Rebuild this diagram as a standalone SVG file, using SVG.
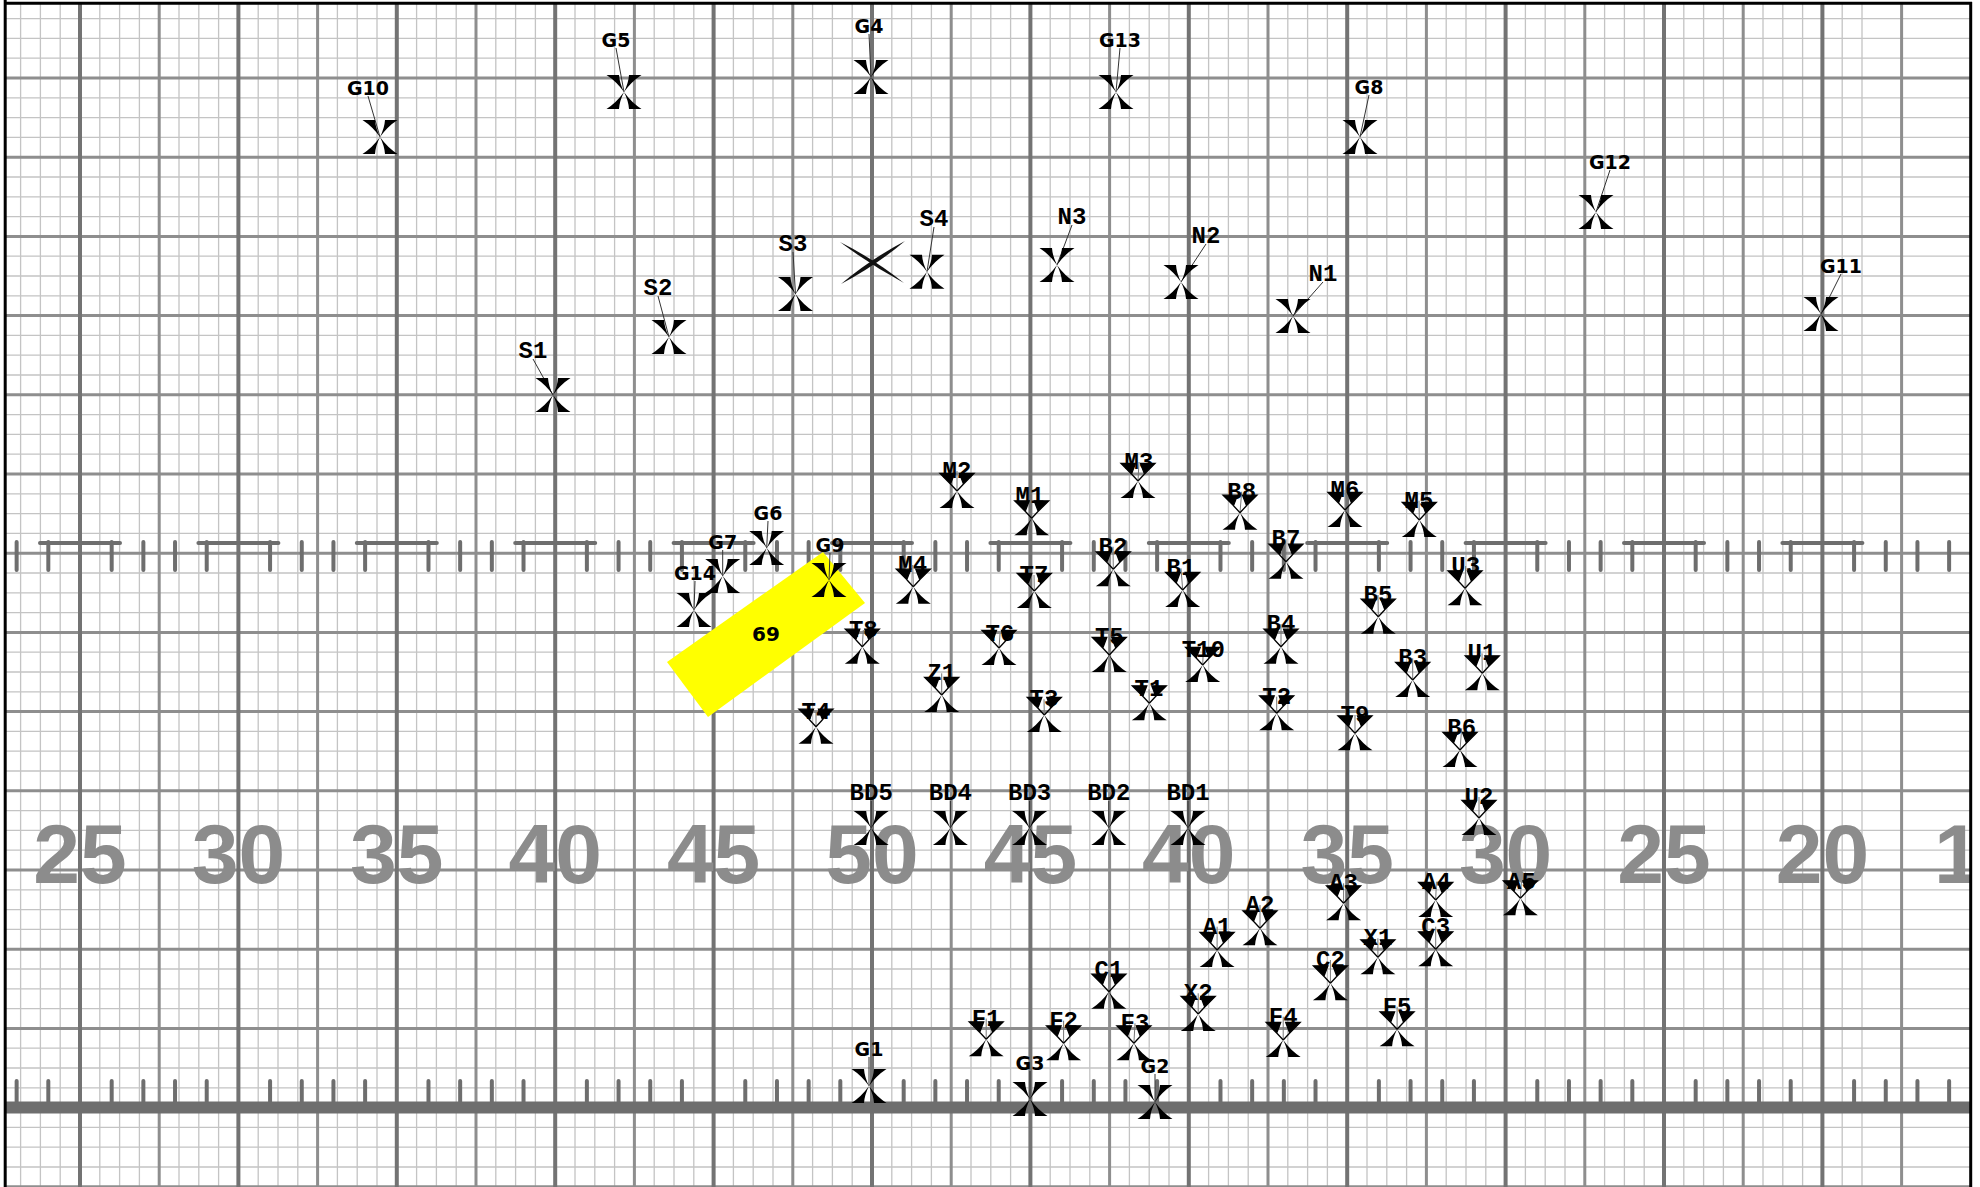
<svg xmlns="http://www.w3.org/2000/svg" xmlns:xlink="http://www.w3.org/1999/xlink" width="1980" height="1187" viewBox="0 0 1980 1187">
<defs>
<style>
.mn{fill:none;stroke:#c4c4c4;stroke-width:1.3}
.mj{fill:none;stroke:#8e8e8e;stroke-width:3}
.dk{fill:none;stroke:#737373;stroke-width:4}
.tk{fill:none;stroke:#6e6e6e;stroke-width:4;stroke-linecap:round}
.num{font-family:"Liberation Sans",Arial,sans-serif;font-weight:bold;font-size:84px;fill:#8c8c8c;text-anchor:middle}
.la{font-family:"DejaVu Sans",sans-serif;font-weight:bold;font-size:19px;fill:#000;text-anchor:middle}
.lb{font-family:"Liberation Mono","Courier New",monospace;font-weight:bold;font-size:24px;fill:#000;text-anchor:middle}
.ld line{stroke:#333;stroke-width:1}
.lg line{stroke:#777;stroke-width:1}
</style>
<path id="w" d="M0 0Q-7.5 -10.5 -17.5 -17L-5 -17Q-4.5 -9 0 0Z" fill="#000"/>
<path id="bb" d="M-17 -17.5H-2.5L-6.5 -7ZM-6.5 -7L0 0" fill="#000" stroke="#000" stroke-width="1.3"/>
<g id="xa"><use href="#w"/><use href="#w" transform="scale(-1,1)"/><use href="#w" transform="scale(1,-1)"/><use href="#w" transform="scale(-1,-1)"/></g>
<g id="xb"><use href="#w" transform="scale(1,-1)"/><use href="#w" transform="scale(-1,-1)"/><use href="#bb"/><use href="#bb" transform="scale(-1,1)"/></g>
<clipPath id="fc"><rect x="5" y="3" width="1966" height="1184"/></clipPath>
</defs>
<rect width="1980" height="1187" fill="#fff"/>
<g id="field" clip-path="url(#fc)">
<path class="mn" d="M20.6 3v1184m19.8 -1184v1184m19.8 -1184v1184m19.8 -1184v1184m19.8 -1184v1184m19.8 -1184v1184m19.8 -1184v1184m19.8 -1184v1184m19.8 -1184v1184m19.8 -1184v1184m19.8 -1184v1184m19.8 -1184v1184m19.8 -1184v1184m19.8 -1184v1184m19.8 -1184v1184m19.8 -1184v1184m19.8 -1184v1184m19.8 -1184v1184m19.8 -1184v1184m19.8 -1184v1184m19.8 -1184v1184m19.8 -1184v1184m19.8 -1184v1184m19.8 -1184v1184m19.8 -1184v1184m19.8 -1184v1184m19.8 -1184v1184m19.8 -1184v1184m19.8 -1184v1184m19.8 -1184v1184m19.8 -1184v1184m19.8 -1184v1184m19.8 -1184v1184m19.8 -1184v1184m19.8 -1184v1184m19.8 -1184v1184m19.8 -1184v1184m19.8 -1184v1184m19.8 -1184v1184m19.8 -1184v1184m19.8 -1184v1184m19.8 -1184v1184m19.8 -1184v1184m19.8 -1184v1184m19.8 -1184v1184m19.8 -1184v1184m19.8 -1184v1184m19.8 -1184v1184m19.8 -1184v1184m19.8 -1184v1184m19.8 -1184v1184m19.8 -1184v1184m19.8 -1184v1184m19.8 -1184v1184m19.8 -1184v1184m19.8 -1184v1184m19.8 -1184v1184m19.8 -1184v1184m19.8 -1184v1184m19.8 -1184v1184m19.8 -1184v1184m19.8 -1184v1184m19.8 -1184v1184m19.8 -1184v1184m19.8 -1184v1184m19.8 -1184v1184m19.8 -1184v1184m19.8 -1184v1184m19.8 -1184v1184m19.8 -1184v1184m19.8 -1184v1184m19.8 -1184v1184m19.8 -1184v1184m19.8 -1184v1184m19.8 -1184v1184m19.8 -1184v1184m19.8 -1184v1184m19.8 -1184v1184m19.8 -1184v1184m19.8 -1184v1184m19.8 -1184v1184m19.8 -1184v1184m19.8 -1184v1184m19.8 -1184v1184m19.8 -1184v1184m19.8 -1184v1184m19.8 -1184v1184m19.8 -1184v1184m19.8 -1184v1184m19.8 -1184v1184m19.8 -1184v1184m19.8 -1184v1184m19.8 -1184v1184m19.8 -1184v1184"/>
<path class="mn" d="M5 18.6h1966m-1966 19.8h1966m-1966 19.8h1966m-1966 19.8h1966m-1966 19.8h1966m-1966 19.8h1966m-1966 19.8h1966m-1966 19.8h1966m-1966 19.8h1966m-1966 19.8h1966m-1966 19.8h1966m-1966 19.8h1966m-1966 19.8h1966m-1966 19.8h1966m-1966 19.8h1966m-1966 19.8h1966m-1966 19.8h1966m-1966 19.8h1966m-1966 19.8h1966m-1966 19.8h1966m-1966 19.8h1966m-1966 19.8h1966m-1966 19.8h1966m-1966 19.8h1966m-1966 19.8h1966m-1966 19.8h1966m-1966 19.8h1966m-1966 19.8h1966m-1966 19.8h1966m-1966 19.8h1966m-1966 19.8h1966m-1966 19.8h1966m-1966 19.8h1966m-1966 19.8h1966m-1966 19.8h1966m-1966 19.8h1966m-1966 19.8h1966m-1966 19.8h1966m-1966 19.8h1966m-1966 19.8h1966m-1966 19.8h1966m-1966 19.8h1966m-1966 19.8h1966m-1966 19.8h1966m-1966 19.8h1966m-1966 19.8h1966m-1966 19.8h1966m-1966 19.8h1966m-1966 19.8h1966m-1966 19.8h1966m-1966 19.8h1966m-1966 19.8h1966m-1966 19.8h1966m-1966 19.8h1966m-1966 19.8h1966m-1966 19.8h1966m-1966 19.8h1966m-1966 19.8h1966m-1966 19.8h1966"/>
<path class="mj" d="M5 78h1966m-1966 79.2h1966m-1966 79.2h1966m-1966 79.2h1966m-1966 79.2h1966m-1966 79.2h1966m-1966 79.2h1966m-1966 79.2h1966m-1966 79.2h1966m-1966 79.2h1966m-1966 79.2h1966m-1966 79.2h1966m-1966 79.2h1966m-1966 79.2h1966m-1966 79.2h1966"/>
<path class="mj" d="M159.2 3v1184m158.4 -1184v1184m158.4 -1184v1184m158.4 -1184v1184m158.4 -1184v1184m158.4 -1184v1184m158.4 -1184v1184m158.4 -1184v1184m158.4 -1184v1184m158.4 -1184v1184m158.4 -1184v1184m158.4 -1184v1184"/>
<path class="dk" d="M80 3v1184m158.4 -1184v1184m158.4 -1184v1184m158.4 -1184v1184m158.4 -1184v1184m158.4 -1184v1184m158.4 -1184v1184m158.4 -1184v1184m158.4 -1184v1184m158.4 -1184v1184m158.4 -1184v1184m158.4 -1184v1184"/>
<path class="tk" d="M16.64 542v28m31.68 -28v28m63.36 -28v28m31.68 -28v28m31.68 -28v28m31.68 -28v28m63.36 -28v28m31.68 -28v28m31.68 -28v28m31.68 -28v28m63.36 -28v28m31.68 -28v28m31.68 -28v28m31.68 -28v28m63.36 -28v28m31.68 -28v28m31.68 -28v28m31.68 -28v28m63.36 -28v28m31.68 -28v28m31.68 -28v28m31.68 -28v28m63.36 -28v28m31.68 -28v28m31.68 -28v28m31.68 -28v28m63.36 -28v28m31.68 -28v28m31.68 -28v28m31.68 -28v28m63.36 -28v28m31.68 -28v28m31.68 -28v28m31.68 -28v28m63.36 -28v28m31.68 -28v28m31.68 -28v28m31.68 -28v28m63.36 -28v28m31.68 -28v28m31.68 -28v28m31.68 -28v28m63.36 -28v28m31.68 -28v28m31.68 -28v28m31.68 -28v28m63.36 -28v28m31.68 -28v28m31.68 -28v28m31.68 -28v28"/>
<path class="tk" d="M40 543h80m78.4 0h80m78.4 0h80m78.4 0h80m78.4 0h80m78.4 0h80m78.4 0h80m78.4 0h80m78.4 0h80m78.4 0h80m78.4 0h80m78.4 0h80"/>
<path class="tk" d="M16.64 1081v24m31.68 -24v24m63.36 -24v24m31.68 -24v24m31.68 -24v24m31.68 -24v24m63.36 -24v24m31.68 -24v24m31.68 -24v24m31.68 -24v24m63.36 -24v24m31.68 -24v24m31.68 -24v24m31.68 -24v24m63.36 -24v24m31.68 -24v24m31.68 -24v24m31.68 -24v24m63.36 -24v24m31.68 -24v24m31.68 -24v24m31.68 -24v24m63.36 -24v24m31.68 -24v24m31.68 -24v24m31.68 -24v24m63.36 -24v24m31.68 -24v24m31.68 -24v24m31.68 -24v24m63.36 -24v24m31.68 -24v24m31.68 -24v24m31.68 -24v24m63.36 -24v24m31.68 -24v24m31.68 -24v24m31.68 -24v24m63.36 -24v24m31.68 -24v24m31.68 -24v24m31.68 -24v24m63.36 -24v24m31.68 -24v24m31.68 -24v24m31.68 -24v24m63.36 -24v24m31.68 -24v24m31.68 -24v24m31.68 -24v24"/>
<path d="M5 1107.6H1971" stroke="#6e6e6e" stroke-width="12"/>
<g id="numbers">
<text class="num" x="80" y="883">25</text>
<text class="num" x="238.4" y="883">30</text>
<text class="num" x="396.8" y="883">35</text>
<text class="num" x="555.2" y="883">40</text>
<text class="num" x="713.6" y="883">45</text>
<text class="num" x="872" y="883">50</text>
<text class="num" x="1030.4" y="883">45</text>
<text class="num" x="1188.8" y="883">40</text>
<text class="num" x="1347.2" y="883">35</text>
<text class="num" x="1505.6" y="883">30</text>
<text class="num" x="1664" y="883">25</text>
<text class="num" x="1822.4" y="883">20</text>
<text class="num" x="1980.8" y="883">15</text>
</g>
</g>
<g id="label69">
<polygon points="667,662 708,717 865,603 823,552" fill="#ffff00"/>
<text x="766" y="640.5" font-family="DejaVu Sans,sans-serif" font-weight="bold" font-size="20" text-anchor="middle">69</text>
</g>
<g id="bigX" fill="#111">
<path d="M840 242Q874.9 259.6 904 283Q871.1 265.4 840 242Z"/>
<path d="M905 241Q869.8 259.6 841 284Q876.2 265.4 905 241Z"/>
</g>
<g id="leaders">
<g class="ld">
<line x1="368" y1="96" x2="380" y2="137"/>
<line x1="616" y1="48" x2="624" y2="92"/>
<line x1="869" y1="34" x2="871" y2="77"/>
<line x1="1120" y1="48" x2="1116" y2="92"/>
<line x1="1369" y1="95" x2="1360" y2="137"/>
<line x1="1610" y1="170" x2="1596" y2="212"/>
<line x1="1841" y1="274" x2="1821" y2="314"/>
<line x1="768" y1="521" x2="766.7" y2="548"/>
<line x1="722.7" y1="550" x2="722.7" y2="576"/>
<line x1="830" y1="553" x2="829" y2="580"/>
<line x1="695" y1="581" x2="694" y2="610"/>
<line x1="869" y1="1057" x2="869" y2="1086"/>
<line x1="1030" y1="1071" x2="1030" y2="1099"/>
<line x1="1155" y1="1074" x2="1155" y2="1102"/>
<line x1="934" y1="227" x2="927" y2="271.7"/>
<line x1="793" y1="252" x2="795.5" y2="294"/>
<line x1="658" y1="296" x2="669" y2="337"/>
<line x1="533" y1="359" x2="553" y2="395"/>
<line x1="1072" y1="225" x2="1057" y2="265"/>
<line x1="1206" y1="244" x2="1181" y2="282"/>
<line x1="1323" y1="282" x2="1293" y2="316"/>
<line x1="871.2" y1="801" x2="871.2" y2="828"/>
<line x1="950.4" y1="801" x2="950.4" y2="828"/>
<line x1="1029.6" y1="801" x2="1029.6" y2="828"/>
<line x1="1108.8" y1="801" x2="1108.8" y2="828"/>
<line x1="1188" y1="801" x2="1188" y2="828"/>
</g>
<g class="lg">
<line x1="957" y1="471" x2="957" y2="491"/>
<line x1="1030" y1="496" x2="1031.7" y2="518.3"/>
<line x1="1139" y1="462" x2="1138" y2="481"/>
<line x1="1241.7" y1="491.7" x2="1240" y2="512.7"/>
<line x1="1345" y1="490" x2="1345" y2="510"/>
<line x1="1419" y1="500.7" x2="1419.3" y2="520"/>
<line x1="912.7" y1="565" x2="913.3" y2="586.7"/>
<line x1="1034" y1="575" x2="1034.3" y2="591"/>
<line x1="1113" y1="546.7" x2="1113.3" y2="569.3"/>
<line x1="1181" y1="568.3" x2="1182.7" y2="590"/>
<line x1="1286" y1="539.3" x2="1286" y2="561.7"/>
<line x1="1465.7" y1="566" x2="1465" y2="588.3"/>
<line x1="1378" y1="595" x2="1378.3" y2="616.7"/>
<line x1="1281" y1="624" x2="1281" y2="646.7"/>
<line x1="863.3" y1="630" x2="862.3" y2="646.7"/>
<line x1="1000" y1="634" x2="999" y2="648"/>
<line x1="1109.3" y1="636.7" x2="1109.3" y2="655"/>
<line x1="1203.3" y1="650" x2="1202.7" y2="665"/>
<line x1="1412.7" y1="658.3" x2="1412.7" y2="680"/>
<line x1="1482" y1="653.3" x2="1482.3" y2="673.3"/>
<line x1="941.7" y1="673.3" x2="941.7" y2="695"/>
<line x1="1044" y1="699.3" x2="1044.3" y2="715"/>
<line x1="1149" y1="689.3" x2="1149.3" y2="703.3"/>
<line x1="1276.7" y1="696.7" x2="1276.7" y2="713.3"/>
<line x1="1355" y1="715" x2="1355" y2="733.3"/>
<line x1="1461.7" y1="728.3" x2="1460" y2="750"/>
<line x1="816" y1="711.7" x2="816" y2="726.7"/>
<line x1="1479" y1="797" x2="1479" y2="818"/>
<line x1="1343.6" y1="883.3" x2="1343.6" y2="903.3"/>
<line x1="1436.4" y1="881.7" x2="1435.7" y2="900"/>
<line x1="1521.4" y1="881.7" x2="1520.4" y2="898.3"/>
<line x1="1260" y1="905" x2="1260" y2="928.3"/>
<line x1="1217.1" y1="926.7" x2="1217.1" y2="950"/>
<line x1="1377.9" y1="938.3" x2="1377.9" y2="957.3"/>
<line x1="1435.7" y1="926.7" x2="1435.7" y2="949.3"/>
<line x1="1330.4" y1="960" x2="1330.4" y2="983.3"/>
<line x1="1108.9" y1="970" x2="1108.9" y2="991.7"/>
<line x1="1198.2" y1="993.3" x2="1198.2" y2="1014"/>
<line x1="986.2" y1="1018.6" x2="986.2" y2="1039.3"/>
<line x1="1063.6" y1="1020.7" x2="1063.6" y2="1043.3"/>
<line x1="1135" y1="1023.3" x2="1133.9" y2="1043.3"/>
<line x1="1283.2" y1="1016.7" x2="1283.2" y2="1040"/>
<line x1="1397.1" y1="1006.7" x2="1397.1" y2="1029.3"/>
</g>
</g>
<g id="nodes">
<g id="G10"><use href="#xa" x="380" y="137"/><text class="la" x="368" y="95">G10</text></g>
<g id="G5"><use href="#xa" x="624" y="92"/><text class="la" x="616" y="47">G5</text></g>
<g id="G4"><use href="#xa" x="871" y="77"/><text class="la" x="869" y="33">G4</text></g>
<g id="G13"><use href="#xa" x="1116" y="92"/><text class="la" x="1120" y="47">G13</text></g>
<g id="G8"><use href="#xa" x="1360" y="137"/><text class="la" x="1369" y="94">G8</text></g>
<g id="G12"><use href="#xa" x="1596" y="212"/><text class="la" x="1610" y="169">G12</text></g>
<g id="G11"><use href="#xa" x="1821" y="314"/><text class="la" x="1841" y="273">G11</text></g>
<g id="G6"><use href="#xa" x="766.7" y="548"/><text class="la" x="768" y="520">G6</text></g>
<g id="G7"><use href="#xa" x="722.7" y="576"/><text class="la" x="722.7" y="549">G7</text></g>
<g id="G9"><use href="#xa" x="829" y="580"/><text class="la" x="830" y="552">G9</text></g>
<g id="G14"><use href="#xa" x="694" y="610"/><text class="la" x="695" y="580">G14</text></g>
<g id="G1"><use href="#xa" x="869" y="1086"/><text class="la" x="869" y="1056">G1</text></g>
<g id="G3"><use href="#xa" x="1030" y="1099"/><text class="la" x="1030" y="1070">G3</text></g>
<g id="G2"><use href="#xa" x="1155" y="1102"/><text class="la" x="1155" y="1073">G2</text></g>
<g id="S4"><use href="#xa" x="927" y="271.7"/><text class="lb" x="934" y="226">S4</text></g>
<g id="S3"><use href="#xa" x="795.5" y="294"/><text class="lb" x="793" y="251">S3</text></g>
<g id="S2"><use href="#xa" x="669" y="337"/><text class="lb" x="658" y="295">S2</text></g>
<g id="S1"><use href="#xa" x="553" y="395"/><text class="lb" x="533" y="358">S1</text></g>
<g id="N3"><use href="#xa" x="1057" y="265"/><text class="lb" x="1072" y="224">N3</text></g>
<g id="N2"><use href="#xa" x="1181" y="282"/><text class="lb" x="1206" y="243">N2</text></g>
<g id="N1"><use href="#xa" x="1293" y="316"/><text class="lb" x="1323" y="281">N1</text></g>
<g id="BD5"><use href="#xa" x="871.2" y="828"/><text class="lb" x="871.2" y="800">BD5</text></g>
<g id="BD4"><use href="#xa" x="950.4" y="828"/><text class="lb" x="950.4" y="800">BD4</text></g>
<g id="BD3"><use href="#xa" x="1029.6" y="828"/><text class="lb" x="1029.6" y="800">BD3</text></g>
<g id="BD2"><use href="#xa" x="1108.8" y="828"/><text class="lb" x="1108.8" y="800">BD2</text></g>
<g id="BD1"><use href="#xa" x="1188" y="828"/><text class="lb" x="1188" y="800">BD1</text></g>
<g id="M2"><use href="#xb" x="957" y="491"/><text class="lb" x="957" y="478">M2</text></g>
<g id="M1"><use href="#xb" x="1031.7" y="518.3"/><text class="lb" x="1030" y="503">M1</text></g>
<g id="M3"><use href="#xb" x="1138" y="481"/><text class="lb" x="1139" y="469">M3</text></g>
<g id="B8"><use href="#xb" x="1240" y="512.7"/><text class="lb" x="1241.7" y="498.7">B8</text></g>
<g id="M6"><use href="#xb" x="1345" y="510"/><text class="lb" x="1345" y="497">M6</text></g>
<g id="M5"><use href="#xb" x="1419.3" y="520"/><text class="lb" x="1419" y="507.7">M5</text></g>
<g id="M4"><use href="#xb" x="913.3" y="586.7"/><text class="lb" x="912.7" y="572">M4</text></g>
<g id="T7"><use href="#xb" x="1034.3" y="591"/><text class="lb" x="1034" y="582">T7</text></g>
<g id="B2"><use href="#xb" x="1113.3" y="569.3"/><text class="lb" x="1113" y="553.7">B2</text></g>
<g id="B1"><use href="#xb" x="1182.7" y="590"/><text class="lb" x="1181" y="575.3">B1</text></g>
<g id="B7"><use href="#xb" x="1286" y="561.7"/><text class="lb" x="1286" y="546.3">B7</text></g>
<g id="U3"><use href="#xb" x="1465" y="588.3"/><text class="lb" x="1465.7" y="573">U3</text></g>
<g id="B5"><use href="#xb" x="1378.3" y="616.7"/><text class="lb" x="1378" y="602">B5</text></g>
<g id="B4"><use href="#xb" x="1281" y="646.7"/><text class="lb" x="1281" y="631">B4</text></g>
<g id="T8"><use href="#xb" x="862.3" y="646.7"/><text class="lb" x="863.3" y="637">T8</text></g>
<g id="T6"><use href="#xb" x="999" y="648"/><text class="lb" x="1000" y="641">T6</text></g>
<g id="T5"><use href="#xb" x="1109.3" y="655"/><text class="lb" x="1109.3" y="643.7">T5</text></g>
<g id="T10"><use href="#xb" x="1202.7" y="665"/><text class="lb" x="1203.3" y="657">T10</text></g>
<g id="B3"><use href="#xb" x="1412.7" y="680"/><text class="lb" x="1412.7" y="665.3">B3</text></g>
<g id="U1"><use href="#xb" x="1482.3" y="673.3"/><text class="lb" x="1482" y="660.3">U1</text></g>
<g id="Z1"><use href="#xb" x="941.7" y="695"/><text class="lb" x="941.7" y="680.3">Z1</text></g>
<g id="T3"><use href="#xb" x="1044.3" y="715"/><text class="lb" x="1044" y="706.3">T3</text></g>
<g id="T1"><use href="#xb" x="1149.3" y="703.3"/><text class="lb" x="1149" y="696.3">T1</text></g>
<g id="T2"><use href="#xb" x="1276.7" y="713.3"/><text class="lb" x="1276.7" y="703.7">T2</text></g>
<g id="T9"><use href="#xb" x="1355" y="733.3"/><text class="lb" x="1355" y="722">T9</text></g>
<g id="B6"><use href="#xb" x="1460" y="750"/><text class="lb" x="1461.7" y="735.3">B6</text></g>
<g id="T4"><use href="#xb" x="816" y="726.7"/><text class="lb" x="816" y="718.7">T4</text></g>
<g id="U2"><use href="#xb" x="1479" y="818"/><text class="lb" x="1479" y="804">U2</text></g>
<g id="A3"><use href="#xb" x="1343.6" y="903.3"/><text class="lb" x="1343.6" y="890.3">A3</text></g>
<g id="A4"><use href="#xb" x="1435.7" y="900"/><text class="lb" x="1436.4" y="888.7">A4</text></g>
<g id="A5"><use href="#xb" x="1520.4" y="898.3"/><text class="lb" x="1521.4" y="888.7">A5</text></g>
<g id="A2"><use href="#xb" x="1260" y="928.3"/><text class="lb" x="1260" y="912">A2</text></g>
<g id="A1"><use href="#xb" x="1217.1" y="950"/><text class="lb" x="1217.1" y="933.7">A1</text></g>
<g id="X1"><use href="#xb" x="1377.9" y="957.3"/><text class="lb" x="1377.9" y="945.3">X1</text></g>
<g id="C3"><use href="#xb" x="1435.7" y="949.3"/><text class="lb" x="1435.7" y="933.7">C3</text></g>
<g id="C2"><use href="#xb" x="1330.4" y="983.3"/><text class="lb" x="1330.4" y="967">C2</text></g>
<g id="C1"><use href="#xb" x="1108.9" y="991.7"/><text class="lb" x="1108.9" y="977">C1</text></g>
<g id="X2"><use href="#xb" x="1198.2" y="1014"/><text class="lb" x="1198.2" y="1000.3">X2</text></g>
<g id="F1"><use href="#xb" x="986.2" y="1039.3"/><text class="lb" x="986.2" y="1025.6">F1</text></g>
<g id="F2"><use href="#xb" x="1063.6" y="1043.3"/><text class="lb" x="1063.6" y="1027.7">F2</text></g>
<g id="F3"><use href="#xb" x="1133.9" y="1043.3"/><text class="lb" x="1135" y="1030.3">F3</text></g>
<g id="F4"><use href="#xb" x="1283.2" y="1040"/><text class="lb" x="1283.2" y="1023.7">F4</text></g>
<g id="F5"><use href="#xb" x="1397.1" y="1029.3"/><text class="lb" x="1397.1" y="1013.7">F5</text></g>
</g>
<path d="M5.2 0V1187M4 3.2H1972M1970.7 2V1187" fill="none" stroke="#000" stroke-width="3"/>
</svg>
